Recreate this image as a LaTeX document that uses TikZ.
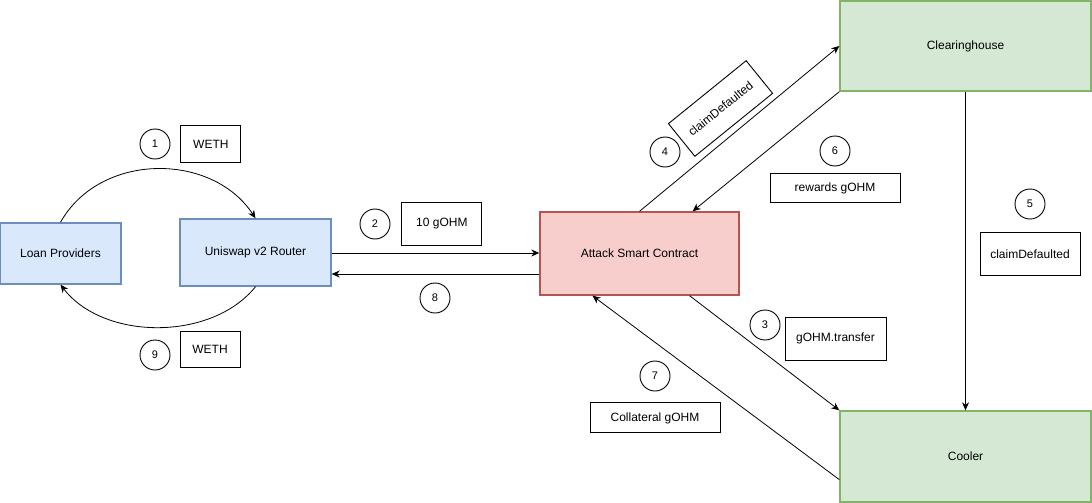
\documentclass[tikz,border=0pt]{standalone}
\usepackage{fontspec}
\setmainfont{Liberation Sans}
\usetikzlibrary{arrows.meta, positioning, calc}
\definecolor{uniFill}{HTML}{DAE8FC}
\definecolor{uniLine}{HTML}{6C8EBF}
\definecolor{atkFill}{HTML}{F8CECC}
\definecolor{atkLine}{HTML}{B85450}
\definecolor{chFill}{HTML}{D5E8D4}
\definecolor{chLine}{HTML}{82B366}
\tikzset{
  block/.style={
    rectangle, line width=1.4pt, inner sep=0pt,
    align=center, font=\fontsize{12}{14}\selectfont
  },
  dex/.style={block, draw=uniLine, fill=uniFill},
  attacker/.style={block, draw=atkLine, fill=atkFill},
  protocol/.style={block, draw=chLine, fill=chFill},
  tag/.style={rectangle, draw=black, line width=0.9pt, fill=white, inner sep=0pt,
    font=\fontsize{12}{14}\selectfont},
  stepnum/.style={circle, draw=black, line width=0.9pt, minimum size=30pt, inner sep=0pt,
    font=\fontsize{11}{13}\selectfont},
  edge/.style={-{Stealth[length=8pt,width=7pt]}, line width=0.8pt}
}

\begin{document}
\begin{tikzpicture}[x=1pt, y=-1pt]
    \useasboundingbox (0,0) rectangle (1092,503);
    % main boxes
    \node[dex, minimum width=121pt, minimum height=61pt] (lp) at (60.5,253.5) {Loan Providers};
    \node[dex, minimum width=151pt, minimum height=67pt] (uni) at (255.5,252.5) {Uniswap v2 Router};
    \node[attacker, minimum width=199pt, minimum height=83pt] (atk) at (639.5,253.5) {Attack Smart Contract};
    \node[protocol, minimum width=251pt, minimum height=90pt] (ch) at (965.5,46) {Clearinghouse};
    \node[protocol, minimum width=251pt, minimum height=91pt] (cool) at (965.5,456.5) {Cooler};

    % step numbers
    \node[stepnum] (n1) at (155,144) {1};
    \node[stepnum] (n2) at (375,224) {2};
    \node[stepnum] (n3) at (765,325) {3};
    \node[stepnum] (n4) at (665,152) {4};
    \node[stepnum] (n5) at (1030,204) {5};
    \node[stepnum] (n6) at (835,151) {6};
    \node[stepnum] (n7) at (655,376) {7};
    \node[stepnum] (n8) at (435,298) {8};
    \node[stepnum] (n9) at (155,355) {9};

    % labels
    \node[tag, minimum width=60pt, minimum height=37pt, right=10pt of n1] (wethIn) {WETH};
    \node[tag, minimum width=60pt, minimum height=36pt] (wethOut) at (210,349) {WETH};
    \node[tag, minimum width=80pt, minimum height=43pt, right=11pt of n2] (swap) {10 gOHM};
    \node[tag, minimum width=101pt, minimum height=43pt] (xfer) at (835.5,338.5) {gOHM.transfer};
    \node[tag, minimum width=100pt, minimum height=42pt, rotate=39] (claimA) at (720.5,108.5) {claimDefaulted};
    \node[tag, minimum width=100pt, minimum height=43pt, below=13pt of n5] (claimB) {claimDefaulted};
    \node[tag, minimum width=130pt, minimum height=29pt, below=7pt of n6] (reward) {rewards gOHM};
    \node[tag, minimum width=130pt, minimum height=30pt, below=11pt of n7] (collat) {Collateral gOHM};

    % flows
    \draw[edge] (lp.north) .. controls (100,152) and (212,152) .. (uni.north);
    \draw[edge] (uni.east |- 0,253) -- (atk.west |- 0,253);
    \draw[edge] ($(atk.south)!0.5!(atk.south east)$) -- (cool.north west);
    \draw[edge] (atk.north) -- (ch.west);
    \draw[edge] (ch.south) -- (cool.north);
    \draw[edge] (ch.south west) -- ($(atk.north)!0.53!(atk.north east)$);
    \draw[edge] ($(cool.west)!0.5!(cool.south west)$) -- ($(atk.south)!0.47!(atk.south west)$);
    \draw[edge] (atk.west |- 0,274) -- (uni.east |- 0,274);
    \draw[edge] (uni.south) .. controls (212,341) and (104,341) .. (lp.south);
\end{tikzpicture}
\end{document}
